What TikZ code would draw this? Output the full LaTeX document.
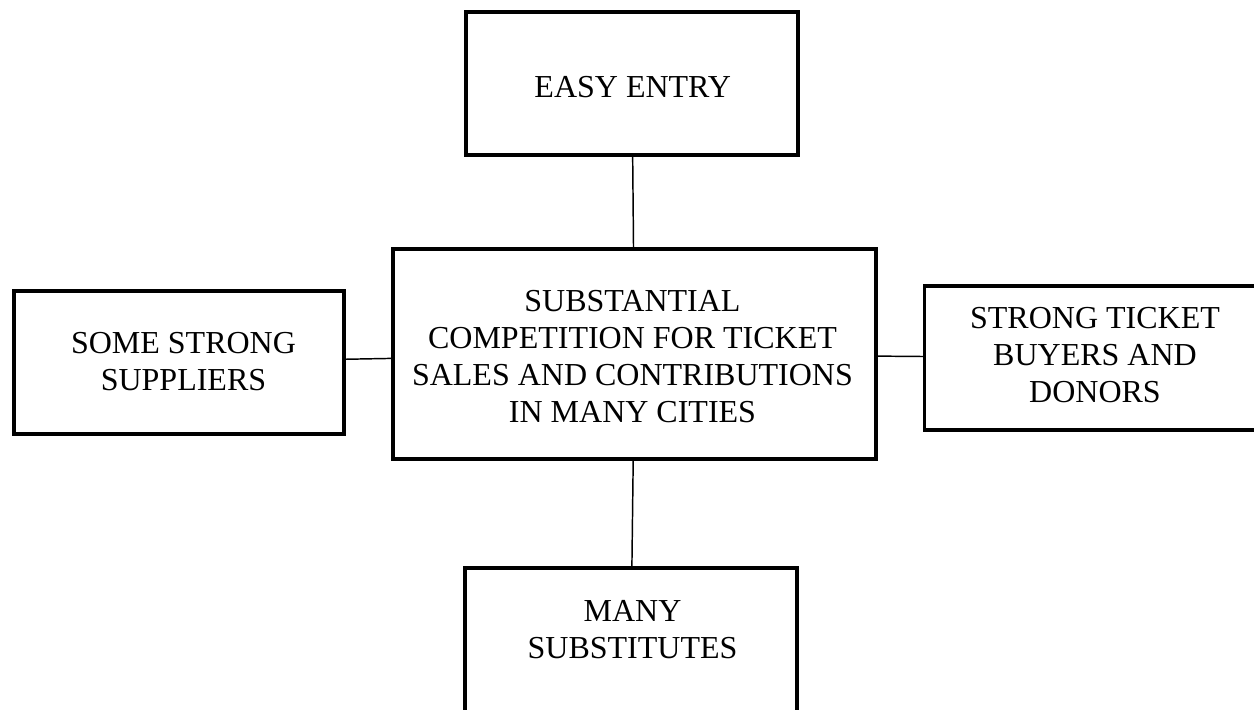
\documentclass[tikz,border=0pt]{standalone}
\usepackage{fontspec}
\setmainfont{Liberation Serif}
\begin{document}
\begin{tikzpicture}[x=0.75pt,y=-0.75pt,
  box/.style={draw=black, line width=2.6pt, rectangle, inner sep=0pt, outer sep=0pt},
  txt/.style={font=\fontsize{24pt}{27.75pt}\selectfont, align=center, inner sep=0pt},
  link/.style={draw=black, line width=1.1pt}]
\useasboundingbox (0,0) rectangle (1254,710);
\clip (0,0) rectangle (1254,710);
% boxes
\node[box, minimum width=249pt, minimum height=107.25pt] (top) at (632,83.5) {};
\node[box, minimum width=362.25pt, minimum height=157.5pt] (ctr) at (634.5,354) {};
\node[box, minimum width=247.5pt, minimum height=107.25pt] (lft) at (179,362.3) {};
\node[box, minimum width=256.5pt, minimum height=108pt] (rgt) at (1095.5,358) {};
\node[box, minimum width=249pt, minimum height=108.75pt] (bot) at (631,640.5) {};
% texts
\node[txt] (ttop) at (632.7,87.5) {EASY ENTRY};
\node[txt] (tctr) at (632.5,356.5) {SUBSTANTIAL\\COMPETITION FOR TICKET\\SALES AND CONTRIBUTIONS\\IN MANY CITIES};
\node[txt] (tlft) at (183.5,361.5) {SOME STRONG\\SUPPLIERS};
\node[txt] (trgt) at (1095,355) {STRONG TICKET\\BUYERS AND\\DONORS};
\node[txt] (tbot) at (632.5,630) {MANY\\SUBSTITUTES};
% connectors
\draw[link] (top) -- (ctr);
\draw[link] (ctr) -- (bot);
\draw[link] (lft) -- (ctr);
\draw[link] (ctr) -- (rgt);
\end{tikzpicture}
\end{document}
